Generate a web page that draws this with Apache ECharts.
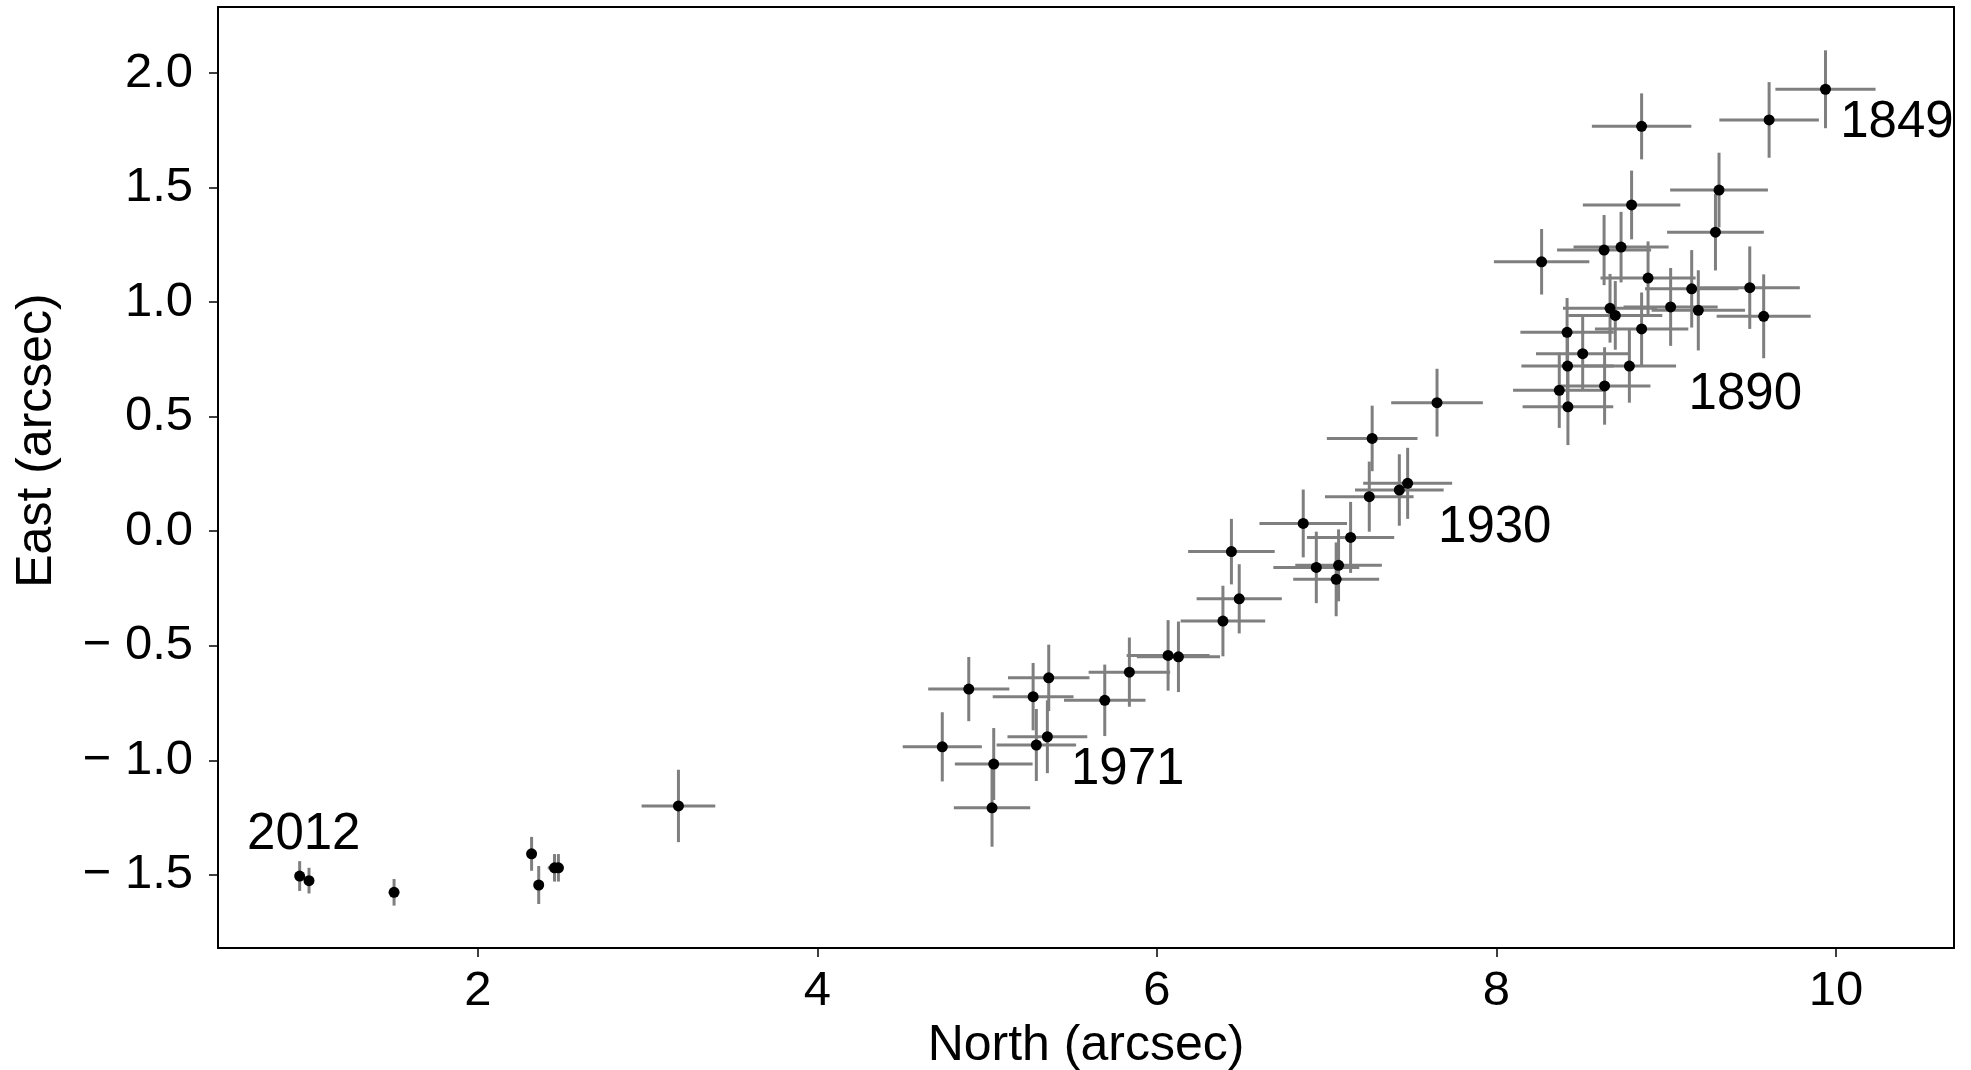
<!DOCTYPE html>
<html>
<head>
<meta charset="utf-8">
<title>North vs East offset</title>
<script src="https://cdn.jsdelivr.net/npm/echarts@6/dist/echarts.min.js"></script>
<style>
  html, body { margin: 0; padding: 0; background: #ffffff; }
  #chart { width: 1971px; height: 1070px; }
</style>
</head>
<body>
<div id="chart"></div>
<script>
// Relative position measurements (arcsec), one entry per epoch
const northVals = [9.938, 9.606, 8.855, 9.311, 9.290, 8.796, 8.266, 8.634, 8.734, 8.893, 9.150, 9.492, 9.026, 9.189, 9.574, 8.669, 8.700, 8.855, 8.416, 8.508, 8.419, 8.783, 8.637, 8.370, 8.421,
  7.650, 7.268, 7.477, 7.428, 7.251, 6.862, 7.141, 6.939, 7.070, 7.056, 6.439, 6.485, 6.389,
  6.066, 6.127, 5.838, 5.693, 5.363, 5.271, 4.892, 5.355, 5.290, 4.736, 5.039, 5.029,
  3.182, 2.317, 2.359, 2.452, 2.475, 1.507, 0.951, 1.006];
const eastVals = [1.929, 1.795, 1.767, 1.489, 1.305, 1.424, 1.176, 1.227, 1.240, 1.105, 1.058, 1.063, 0.979, 0.964, 0.938, 0.973, 0.942, 0.883, 0.868, 0.775, 0.721, 0.721, 0.634, 0.615, 0.543,
  0.561, 0.405, 0.209, 0.180, 0.151, 0.034, -0.027, -0.158, -0.149, -0.210, -0.089, -0.295, -0.392,
  -0.542, -0.548, -0.615, -0.738, -0.640, -0.722, -0.689, -0.897, -0.933, -0.941, -1.016, -1.207,
  -1.199, -1.408, -1.544, -1.469, -1.469, -1.576, -1.505, -1.525];
const northErr = [0.295, 0.293, 0.293, 0.288, 0.285, 0.287, 0.281, 0.277, 0.280, 0.280, 0.275, 0.295, 0.277, 0.275, 0.277, 0.277, 0.277, 0.275, 0.275, 0.275, 0.272, 0.275, 0.270, 0.272, 0.267,
  0.270, 0.267, 0.262, 0.261, 0.261, 0.258, 0.257, 0.253, 0.255, 0.253, 0.255, 0.251, 0.249,
  0.244, 0.245, 0.240, 0.240, 0.240, 0.238, 0.239, 0.235, 0.234, 0.233, 0.229, 0.225,
  0.217, 0.020, 0.020, 0.040, 0.030, 0.020, 0.020, 0.020];
const eastErr = [0.170, 0.165, 0.144, 0.163, 0.167, 0.150, 0.143, 0.153, 0.154, 0.160, 0.169, 0.180, 0.170, 0.175, 0.183, 0.150, 0.150, 0.159, 0.150, 0.160, 0.150, 0.160, 0.169, 0.164, 0.167,
  0.148, 0.143, 0.155, 0.156, 0.153, 0.148, 0.155, 0.156, 0.157, 0.161, 0.143, 0.151, 0.154,
  0.154, 0.154, 0.151, 0.156, 0.145, 0.147, 0.140, 0.159, 0.157, 0.151, 0.157, 0.170,
  0.158, 0.074, 0.083, 0.060, 0.060, 0.058, 0.065, 0.056];

// Year annotations placed in data coordinates
const yearLabels = ['1849', '1890', '1930', '1971', '2012'];
const yearNorth = [10.359, 9.466, 7.990, 5.828, 0.975];
const yearEast = [1.780, 0.594, 0.013, -1.042, -1.326];

// Axis tick values
const northTicks = [2, 4, 6, 8, 10];
const eastTicks = [-1.5, -1.0, -0.5, 0.0, 0.5, 1.0, 1.5, 2.0];

const FONT = '"Liberation Sans", Arial, Helvetica, sans-serif';

const pointData = northVals.map((n, i) => [n, eastVals[i], northErr[i], eastErr[i]]);
const labelData = yearLabels.map((t, i) => ({ name: t, value: [yearNorth[i], yearEast[i]] }));

const chart = echarts.init(document.getElementById('chart'), null, { renderer: 'canvas' });

const option = {
  animation: false,
  backgroundColor: '#ffffff',
  grid: {
    left: 218, right: 17, top: 7, bottom: 122,
    outerBoundsMode: 'none',
    containLabel: false,
    show: true, borderColor: '#000000', borderWidth: 2, backgroundColor: 'transparent'
  },
  xAxis: {
    type: 'value',
    min: 0.47, max: 10.695,
    name: 'North (arcsec)',
    nameLocation: 'middle',
    nameGap: 61,
    nameTextStyle: { fontFamily: FONT, fontSize: 50, color: '#000' },
    axisLine: { show: true, onZero: false, lineStyle: { color: '#000', width: 2 } },
    axisTick: { show: true, customValues: northTicks, length: 9, inside: false, lineStyle: { color: '#000', width: 1.5 } },
    axisLabel: { customValues: northTicks, margin: 19, fontFamily: FONT, fontSize: 49, color: '#000',
      formatter: v => String(v) },
    splitLine: { show: false }
  },
  yAxis: {
    type: 'value',
    min: -1.819, max: 2.288,
    name: 'East (arcsec)',
    nameLocation: 'middle',
    nameRotate: 90,
    nameGap: 156,
    nameTextStyle: { fontFamily: FONT, fontSize: 50, color: '#000', padding: [0, 0, 0, 74] },
    axisLine: { show: true, onZero: false, lineStyle: { color: '#000', width: 2 } },
    axisTick: { show: true, customValues: eastTicks, length: 9, inside: false, lineStyle: { color: '#000', width: 1.5 } },
    axisLabel: { customValues: eastTicks, margin: 25, fontFamily: FONT, fontSize: 49, color: '#000',
      formatter: v => (v < 0 ? '\u2212 ' + Math.abs(v).toFixed(1) : v.toFixed(1)) },
    splitLine: { show: false }
  },
  series: [
    {
      // error bars in both coordinates
      type: 'custom',
      data: pointData,
      encode: { x: 0, y: 1 },
      clip: true,
      z: 2,
      renderItem: function (params, api) {
        const x = api.value(0), y = api.value(1), ex = api.value(2), ey = api.value(3);
        const l = api.coord([x - ex, y]);
        const r = api.coord([x + ex, y]);
        const t = api.coord([x, y + ey]);
        const b = api.coord([x, y - ey]);
        const style = { stroke: '#7f7f7f', lineWidth: 3, fill: null };
        return {
          type: 'group',
          children: [
            { type: 'line', shape: { x1: l[0], y1: l[1], x2: r[0], y2: r[1] }, style: style },
            { type: 'line', shape: { x1: t[0], y1: t[1], x2: b[0], y2: b[1] }, style: style }
          ]
        };
      }
    },
    {
      type: 'scatter',
      data: pointData.map(d => [d[0], d[1]]),
      symbol: 'circle',
      symbolSize: 11,
      itemStyle: { color: '#000000', opacity: 1 },
      z: 3
    },
    {
      type: 'scatter',
      data: labelData,
      symbolSize: 0,
      silent: true,
      z: 4,
      itemStyle: { color: '#000000', opacity: 1 },
      label: {
        show: true,
        position: [0, 0],
        formatter: p => p.name,
        align: 'center',
        verticalAlign: 'middle',
        fontFamily: FONT,
        fontSize: 51,
        color: '#000000',
        opacity: 1,
        textBorderWidth: 0
      }
    }
  ]
};

chart.setOption(option);
</script>
</body>
</html>
